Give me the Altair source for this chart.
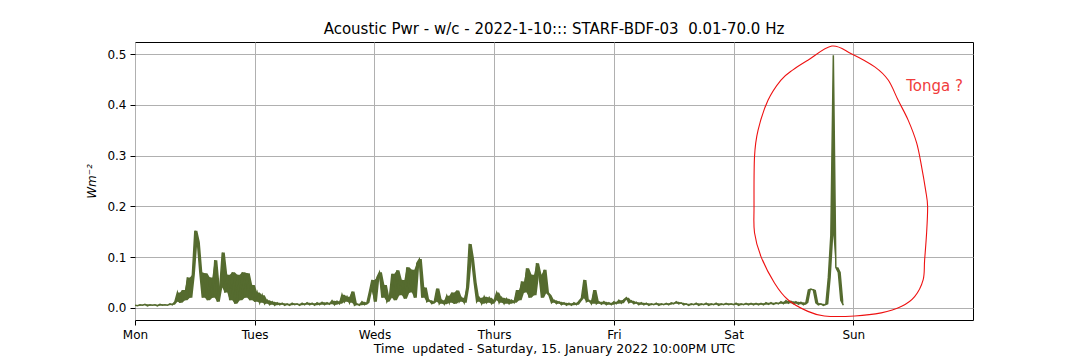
import altair as alt
import numpy as np
import pandas as pd

# ---------------- data ----------------
DAY_LABELS = ["Mon", "Tues", "Weds", "Thurs", "Fri", "Sat", "Sun"]
DAY_TICKS = [0, 24, 48, 72, 96, 120, 144]          # hours since Monday 00:00
Y_TICKS = [0.0, 0.1, 0.2, 0.3, 0.4, 0.5]

# acoustic power (W m^-2), one sample every half hour starting Monday 00:00
POWER = [
    0.005, 0.004, 0.006, 0.005, 0.007, 0.004, 0.006, 0.005, 0.006, 0.004,
    0.007, 0.005, 0.006, 0.005, 0.008, 0.006, 0.012, 0.030, 0.010, 0.035,
    0.015, 0.060, 0.020, 0.065, 0.152, 0.130, 0.070, 0.020, 0.068, 0.015,
    0.060, 0.020, 0.094, 0.012, 0.040, 0.109, 0.030, 0.065, 0.015, 0.070,
    0.008, 0.065, 0.015, 0.070, 0.020, 0.068, 0.015, 0.045, 0.012, 0.030,
    0.010, 0.025, 0.008, 0.015, 0.006, 0.012, 0.005, 0.010, 0.006, 0.009,
    0.005, 0.008, 0.005, 0.009, 0.006, 0.008, 0.005, 0.009, 0.006, 0.010,
    0.006, 0.009, 0.005, 0.010, 0.006, 0.011, 0.006, 0.010, 0.007, 0.014,
    0.006, 0.013, 0.008, 0.026, 0.012, 0.022, 0.010, 0.032, 0.005, 0.008,
    0.005, 0.012, 0.006, 0.010, 0.032, 0.055, 0.012, 0.060, 0.070, 0.020,
    0.045, 0.012, 0.020, 0.067, 0.015, 0.074, 0.025, 0.055, 0.018, 0.080,
    0.030, 0.075, 0.020, 0.088, 0.096, 0.020, 0.040, 0.012, 0.015, 0.008,
    0.012, 0.038, 0.008, 0.015, 0.007, 0.024, 0.010, 0.030, 0.008, 0.034,
    0.012, 0.020, 0.010, 0.040, 0.126, 0.095, 0.050, 0.012, 0.020, 0.008,
    0.022, 0.010, 0.020, 0.008, 0.015, 0.030, 0.010, 0.020, 0.008, 0.018,
    0.008, 0.015, 0.010, 0.035, 0.015, 0.052, 0.030, 0.078, 0.020, 0.065,
    0.025, 0.088, 0.065, 0.020, 0.075, 0.030, 0.025, 0.010, 0.015, 0.008,
    0.012, 0.006, 0.010, 0.005, 0.009, 0.005, 0.010, 0.006, 0.013, 0.019,
    0.055, 0.012, 0.015, 0.008, 0.035, 0.008, 0.012, 0.007, 0.012, 0.006,
    0.010, 0.006, 0.012, 0.008, 0.015, 0.009, 0.016, 0.020, 0.010, 0.014,
    0.008, 0.011, 0.006, 0.010, 0.006, 0.009, 0.005, 0.008, 0.006, 0.009,
    0.005, 0.008, 0.006, 0.009, 0.006, 0.010, 0.008, 0.012, 0.008, 0.010,
    0.006, 0.008, 0.005, 0.008, 0.006, 0.009, 0.005, 0.008, 0.006, 0.009,
    0.005, 0.008, 0.006, 0.009, 0.005, 0.008, 0.006, 0.009, 0.006, 0.008,
    0.006, 0.009, 0.005, 0.008, 0.006, 0.009, 0.006, 0.009, 0.006, 0.009,
    0.006, 0.009, 0.006, 0.010, 0.007, 0.010, 0.007, 0.010, 0.008, 0.012,
    0.008, 0.014, 0.009, 0.013, 0.008, 0.012, 0.007, 0.011, 0.006, 0.010,
    0.035, 0.037, 0.035, 0.010, 0.006, 0.008, 0.005, 0.007, 0.060, 0.143,
    0.498, 0.080, 0.070, 0.015, 0.005,
]
SAMPLE_STEP_H = 0.5
HOURS = np.arange(len(POWER)) * SAMPLE_STEP_H

# hand-drawn red loop around the event (hours, W m^-2)
LOOP_H = [139.7, 143.6, 148.3, 151.0, 153.0, 155.0, 156.7, 157.7, 158.5, 158.9,
          158.7, 158.3, 158.0, 156.3, 153.7, 149.6, 144.3, 138.2, 134.9, 130.9,
          128.2, 125.5, 124.2, 124.1, 124.2, 124.9, 126.9, 129.5, 131.9, 134.9]
LOOP_V = [0.516, 0.501, 0.475, 0.449, 0.409, 0.370, 0.325, 0.278, 0.232, 0.200,
          0.148, 0.094, 0.055, 0.022, 0.003, -0.010, -0.016, -0.016, -0.007, 0.016,
          0.049, 0.101, 0.148, 0.199, 0.298, 0.350, 0.409, 0.449, 0.469, 0.488]
NOTE_TEXT = ["Tonga ?"]
NOTE_H = [160.3]
NOTE_V = [0.437]

TITLE = "Acoustic Pwr - w/c - 2022-1-10::: STARF-BDF-03 \u00a00.01-70.0 Hz"
X_TITLE = "Time \u00a0updated - Saturday, 15. January 2022 10:00PM UTC"
Y_TITLE = "Wm\u207b\u00b2"

# ---------------- chart ----------------
df = pd.DataFrame({"h": HOURS, "p": POWER})
loop = pd.DataFrame({"h": LOOP_H, "v": LOOP_V, "o": list(range(len(LOOP_H)))})
note = pd.DataFrame({"h": NOTE_H, "v": NOTE_V, "t": NOTE_TEXT})

FONT = "DejaVu Sans"
LINE_COLOR = "#556b2f"
xscale = alt.Scale(domain=[0, 168], nice=False, zero=False)
yscale = alt.Scale(domain=[-0.024, 0.524], nice=False, zero=False)

label_expr = "[" + ",".join("'%s'" % d for d in DAY_LABELS) + "][round(datum.value/24)]"

xaxis = alt.Axis(values=DAY_TICKS, labelExpr=label_expr, title=X_TITLE,
                 grid=True, labelPadding=4, titlePadding=2, labelFlush=False,
                 titleFontSize=12.5)
yaxis = alt.Axis(values=Y_TICKS, format=".1f", title=Y_TITLE, grid=True,
                 titleFontStyle="italic", labelPadding=4, titlePadding=8)

# envelope of consecutive samples -> the dense noise band of the signal
# (the isolated large spike keeps the plain line shape)
band = alt.Chart(df).transform_window(
    hi0="max(p)", lo="min(p)", frame=[-1, 0], sort=[alt.SortField("h")]
).transform_calculate(
    hi="datum.hi0 > 0.2 ? datum.p : datum.hi0"
).mark_area(color=LINE_COLOR, opacity=1, clip=True).encode(
    x=alt.X("h:Q", scale=xscale, axis=xaxis),
    y=alt.Y("hi:Q", scale=yscale, axis=yaxis),
    y2="lo:Q",
)

line = alt.Chart(df).mark_line(color=LINE_COLOR, strokeWidth=1.5, clip=True).encode(
    x=alt.X("h:Q", scale=xscale),
    y=alt.Y("p:Q", scale=yscale),
)

ring = alt.Chart(loop).mark_line(color="#ee1111", strokeWidth=1.1,
                                 interpolate="cardinal-closed").encode(
    x=alt.X("h:Q", scale=xscale),
    y=alt.Y("v:Q", scale=yscale),
    order="o:Q",
)

label = alt.Chart(note).mark_text(color="#f03c3c", font=FONT, fontSize=15,
                                  align="center", baseline="middle").encode(
    x=alt.X("h:Q", scale=xscale),
    y=alt.Y("v:Q", scale=yscale),
    text="t:N",
)

chart = alt.layer(band, line, ring, label).properties(
    width=838,
    height=278,
    background="white",
    title=alt.TitleParams(TITLE, font=FONT, fontSize=15, fontWeight="normal",
                          color="black", anchor="middle", offset=5),
    autosize=alt.AutoSizeParams(type="none"),
    padding={"left": 135, "top": 42, "right": 107, "bottom": 40},
).configure_view(
    stroke="black", strokeWidth=1
).configure_axis(
    labelFont=FONT, labelFontSize=12, labelColor="black",
    titleFont=FONT, titleFontSize=12, titleFontWeight="normal", titleColor="black",
    gridColor="#b0b0b0", gridWidth=1, gridOpacity=1,
    tickColor="black", tickSize=5, tickWidth=1,
    domain=False,
)

chart.save("out.html", embed_options={"renderer": "svg", "actions": False})
